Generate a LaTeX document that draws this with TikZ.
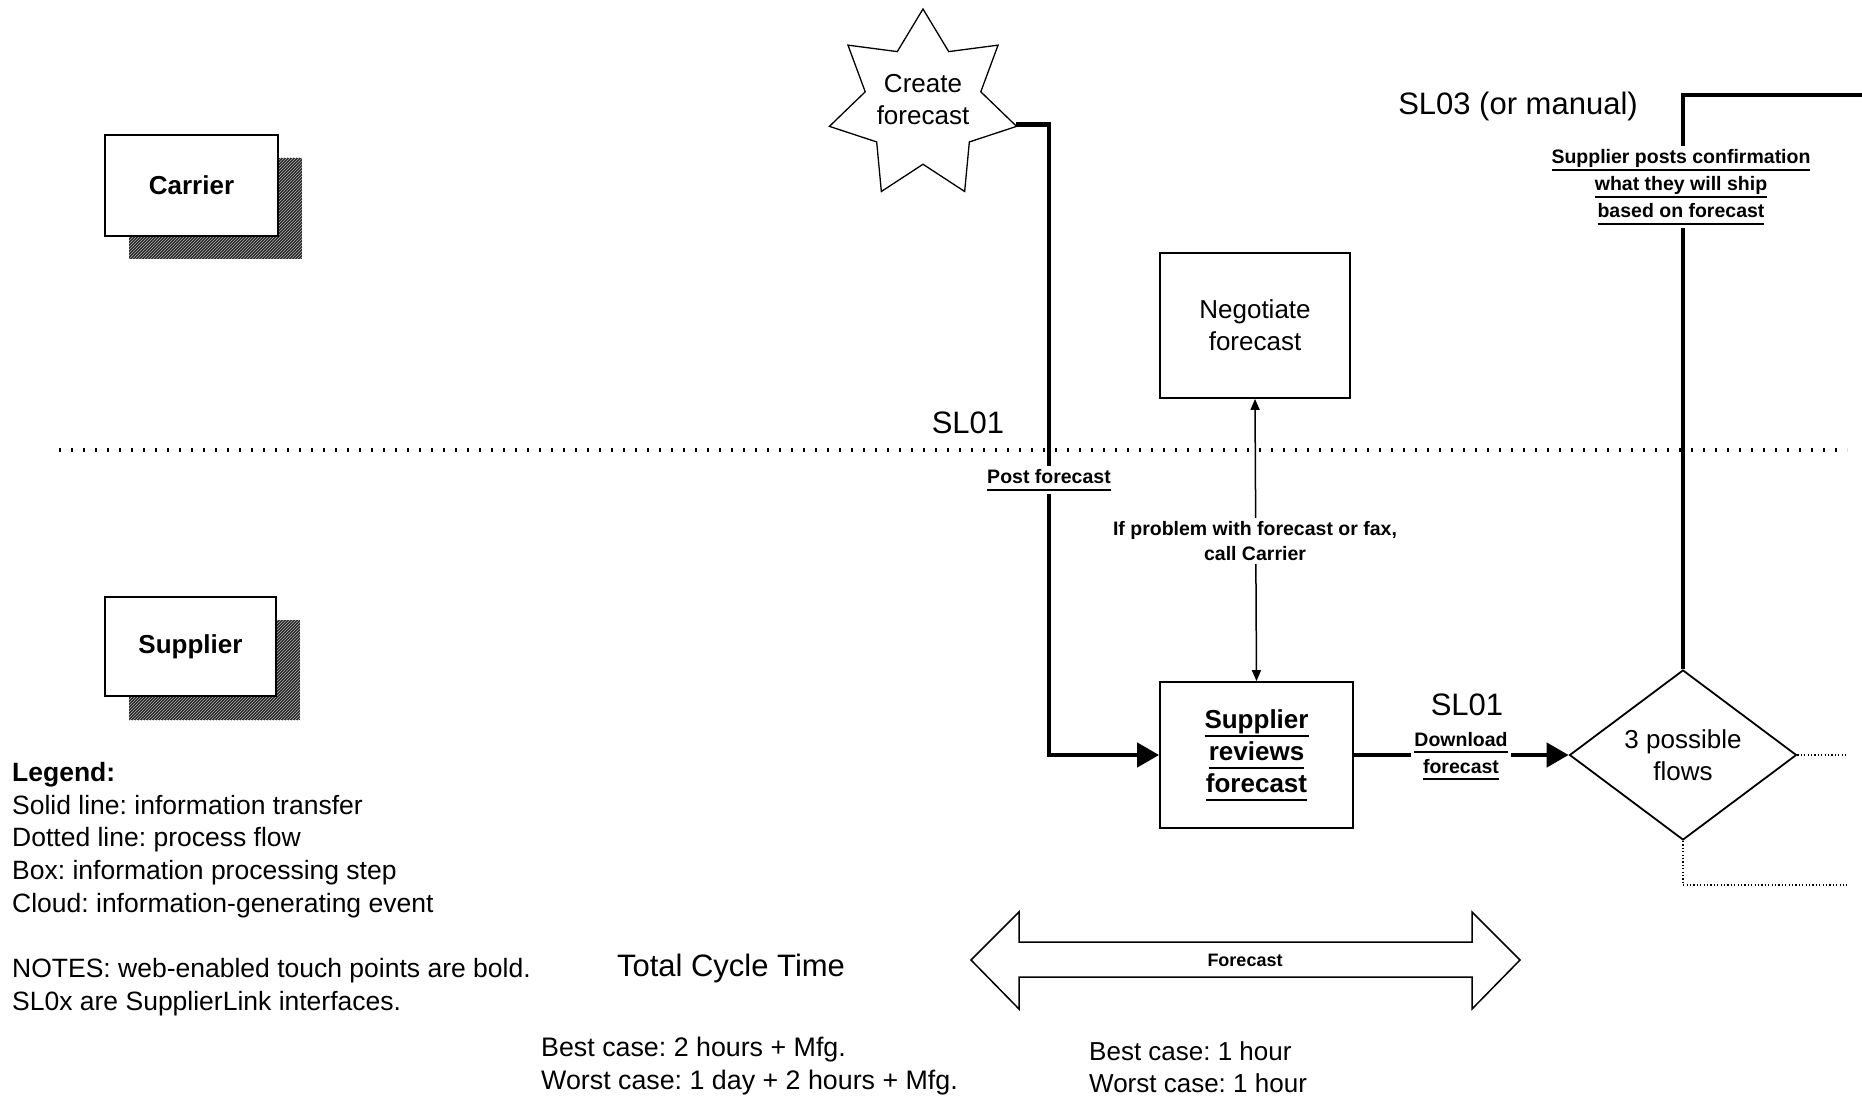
\documentclass[tikz,border=0pt]{standalone}
\usepackage{fontspec}
\setmainfont{Liberation Sans}
\usetikzlibrary{shapes.geometric,arrows.meta,patterns}
\frenchspacing
\newcommand\fnorm{\fontsize{26}{32}\selectfont}
\newcommand\flegend{\fontsize{26.5}{32.7}\selectfont}
\newcommand\fcase{\fontsize{26.8}{33}\selectfont}
\newcommand\fbig{\fontsize{31}{37}\selectfont}
\newcommand\flab{\fontsize{19.5}{25}\selectfont\bfseries}
\newcommand\ulx[1]{\leavevmode\vtop{\hbox{#1\vphantom{gp}}\kern1.2pt\hrule height 1.8pt}}
\begin{document}
\begin{tikzpicture}[x=1pt,y=-1pt,
  every node/.style={inner sep=0pt, text=black},
  procbox/.style={draw, line width=1.8pt, fill=white, align=center, font=\fnorm},
  actorbox/.style={draw, line width=1.8pt, fill=white, font=\fnorm\bfseries},
  shadowfill/.style={fill=black!85, postaction={pattern=north east lines, pattern color=white!70!black}},
  infoline/.style={line width=4.5pt},
  infoflow/.style={line width=4.5pt, -{Triangle[length=22pt,width=24pt]}},
  callline/.style={line width=1.5pt, {Triangle[length=11pt,width=9pt]}-{Triangle[length=11pt,width=9pt]}},
  lab/.style={fill=white, font=\flab, align=center, inner sep=3pt},
  bigtxt/.style={font=\fbig},
  procflow/.style={line width=1.6pt, dash pattern=on 1.2pt off 2.2pt},
  laneline/.style={line width=4pt, dash pattern=on 1.8pt off 10.2pt}]
\path[use as bounding box, fill=white] (0,0) rectangle (1862,1099);

% lane separator
\coordinate (laneL) at (59,450);
\coordinate (laneR) at (1847,450);
\draw[laneline] (laneL) -- (laneR);

% actors
\fill[shadowfill] (129,158) rectangle (302,259);
\node[actorbox, minimum width=173pt, minimum height=101pt] (carrier) at (191.5,185.5) {Carrier};
\fill[shadowfill] (129,620) rectangle (300,720);
\node[actorbox, minimum width=171pt, minimum height=99pt] (supplier) at (190.5,646.5) {Supplier};

% legend
\node[anchor=north west, align=left, font=\flegend] (legend) at (12,762)
 {\textbf{Legend:}\\Solid line: information transfer\\Dotted line: process flow\\Box: information processing step\\Cloud: information-generating event\\[32.7pt]NOTES: web-enabled touch points are bold.\\SL0x are SupplierLink interfaces.};

% cycle time
\node[bigtxt] (tct) at (731,968) {Total Cycle Time};
\node[anchor=west, align=left, font=\fcase] (tcase) at (541,1066) {Best case: 2 hours + Mfg.\\Worst case: 1 day + 2 hours + Mfg.};
\node[anchor=west, align=left, font=\fnorm] (fcase) at (1089,1067) {Best case: 1 hour\\Worst case: 1 hour};

% forecast span arrow
\draw[line width=1.5pt, fill=white] (971,960) -- (1019,912) -- (1019,942) -- (1472,942) -- (1472,912) -- (1520,960) -- (1472,1009) -- (1472,977) -- (1019,977) -- (1019,1009) -- cycle;
\node[font=\fontsize{18}{22}\selectfont\bfseries] (fctext) at (1245,960) {Forecast};

% process nodes
\node[star, star points=7, star point ratio=1.62, minimum size=192pt, inner sep=-6pt, draw, line width=1.3pt, fill=white, align=center, font=\fnorm] (cf) at (923,105) {Create\\forecast\rule[-12pt]{0pt}{0pt}};
\node[procbox, minimum width=190pt, minimum height=145pt] (neg) at (1255,325.5) {Negotiate\\forecast};
\node[procbox, font=\fnorm\bfseries, minimum width=193pt, minimum height=146pt] (rev) at (1256.5,755) {\ulx{Supplier}\\\ulx{reviews}\\\ulx{forecast}};
\node[diamond, draw, line width=1.8pt, fill=white, minimum width=227pt, minimum height=170pt, align=center, font=\fnorm] (dia) at (1683,755) {3 possible\\flows};

% connectors
\draw[infoflow] (cf.-12.86) -| (1049,755) -- (rev.west);
\node[lab] (postlab) at (1049,480) {\ulx{Post forecast}};
\node[bigtxt] (sl01a) at (968,423) {SL01};

\draw[callline] (neg.south) -- (rev.north);
\node[lab] (calllab) at (1255,541) {If problem with forecast or fax,\\call Carrier};

\draw[infoflow] (rev.east) -- (dia.west);
\node[lab, font=\fontsize{19.5}{27}\selectfont\bfseries] (dllab) at (1461,756) {\ulx{Download}\\\ulx{forecast}};
\node[bigtxt] (sl01b) at (1467,705) {SL01};

\coordinate (sl03end) at (1862,95);
\draw[infoline] (dia.north) |- (sl03end);
\node[lab, font=\fontsize{19.5}{27}\selectfont\bfseries] (conflab) at (1681,187) {\ulx{Supplier posts confirmation}\\\ulx{what they will ship}\\\ulx{based on forecast}};
\node[bigtxt] (sl03) at (1518,106) {SL03 (or manual)};

\coordinate (flowA) at (1847,755);
\coordinate (flowB) at (1847,885);
\draw[procflow] (dia.east) -- (flowA);
\draw[procflow] (dia.south) |- (flowB);
\end{tikzpicture}
\end{document}
